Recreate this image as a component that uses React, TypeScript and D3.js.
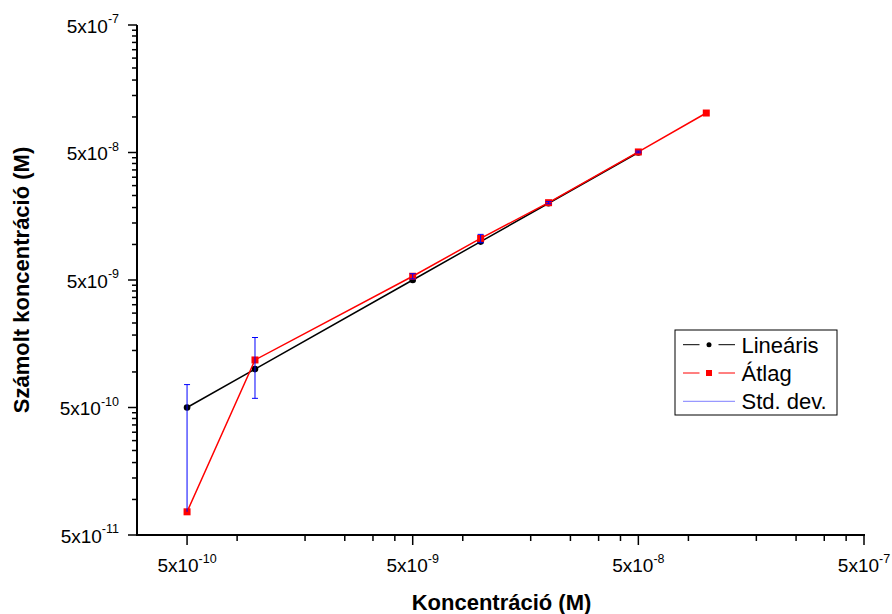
import React from 'react';
import * as d3 from 'd3';

// ---- data ----
const concentrations = [5e-10, 1e-9, 5e-9, 1e-8, 2e-8, 5e-8, 1e-7];
const linearis = [5e-10, 1e-9, 5e-9, 1e-8, 2e-8, 5e-8];
const atlag = [7.6e-11, 1.18e-9, 5.35e-9, 1.06e-8, 2.02e-8, 5.05e-8, 1.02e-7];
const stdDev = [6.8e-10, 5.9e-10, 2.5e-10, 8e-10, 4e-10, 8e-10, 0];

const xMajorTicks = [5e-10, 5e-9, 5e-8, 5e-7];
const xTickExponents = ['-10', '-9', '-8', '-7'];
const yMajorTicks = [5e-11, 5e-10, 5e-9, 5e-8, 5e-7];
const yTickExponents = ['-11', '-10', '-9', '-8', '-7'];
// minor tick factors (Origin style)
const xMinorFactors = [1 / 6, 2 / 6, 3 / 6, 4 / 6, 5 / 6]; // of upper major
const yMinorFactors = [1.9, 2.8, 3.7, 4.6, 5.5, 6.4, 7.3, 8.2, 9.1]; // of lower major

const legendLabels = ['Lineáris', 'Átlag', 'Std. dev.'];
const xTitle = 'Koncentráció (M)';
const yTitle = 'Számolt koncentráció (M)';

const W = 892;
const H = 614;
const FONT = "'Liberation Sans', Arial, sans-serif";

export default function App() {
  const x = d3.scaleLog().domain([3e-10, 5e-7]).range([137, 864]);
  const y = d3.scaleLog().domain([5e-11, 5e-7]).range([535, 25]);
  const x0 = x.range()[0];
  const y0 = y.range()[0];

  const xMinor: number[] = [];
  xMajorTicks.slice(1).forEach((m) => xMinorFactors.forEach((f) => xMinor.push(m * f)));
  const yMinor: number[] = [];
  yMajorTicks.slice(0, -1).forEach((m) => yMinorFactors.forEach((f) => yMinor.push(m * f)));

  const lin = linearis.map((v, i) => [concentrations[i], v] as [number, number]);
  const avg = atlag.map((v, i) => [concentrations[i], v] as [number, number]);
  const line = d3
    .line<[number, number]>()
    .x((d) => x(d[0]))
    .y((d) => y(d[1]));

  const legX = 675;
  const legY = 330;
  const rows = [344.7, 373, 401.3];

  return (
    <svg
      width={W}
      height={H}
      style={{ position: 'absolute', left: 0, top: 0, background: '#fff' }}
      fontFamily={FONT}
    >
      <rect x={0} y={0} width={W} height={H} fill="#fff" />

      {/* lines */}
      <path d={line(lin) || ''} fill="none" stroke="#000" strokeWidth={1.5} />
      {lin.map((d, i) => (
        <circle key={'c' + i} cx={x(d[0])} cy={y(d[1])} r={3.3} fill="#000" />
      ))}
      <path d={line(avg) || ''} fill="none" stroke="#ff0000" strokeWidth={1.5} />
      {avg.map((d, i) => (
        <rect key={'s' + i} x={x(d[0]) - 3.5} y={y(d[1]) - 3.5} width={7} height={7} fill="#ff0000" />
      ))}

      {/* error bars */}
      {avg.map((d, i) => {
        const sd = stdDev[i];
        if (!sd) return null;
        const cx = x(d[0]);
        const top = y(d[1] + sd);
        const lowVal = d[1] - sd;
        const bottom = lowVal > 0 ? y(lowVal) : y(d[1]);
        return (
          <g key={'e' + i} stroke="#0000ff" strokeWidth={1}>
            <line x1={cx} x2={cx} y1={top} y2={bottom} />
            <line x1={cx - 3} x2={cx + 3} y1={top} y2={top} />
            {lowVal > 0 && <line x1={cx - 3} x2={cx + 3} y1={bottom} y2={bottom} />}
          </g>
        );
      })}

      {/* axes */}
      <line x1={x0} x2={x0} y1={y.range()[1]} y2={y0 + 1} stroke="#000" strokeWidth={2} />
      <line x1={x0 - 1} x2={x.range()[1] + 1} y1={y0} y2={y0} stroke="#000" strokeWidth={2} />

      {xMajorTicks.map((t, i) => (
        <g key={'xm' + i}>
          <line x1={x(t)} x2={x(t)} y1={y0} y2={y0 + 10} stroke="#000" strokeWidth={1.5} />
          <text x={x(t)} y={572} fontSize={19} textAnchor="middle" fill="#000">
            5x10
            <tspan fontSize={12.5} dy={-9.5}>
              {xTickExponents[i]}
            </tspan>
          </text>
        </g>
      ))}
      {xMinor.map((t, i) => (
        <line key={'xn' + i} x1={x(t)} x2={x(t)} y1={y0} y2={y0 + 6} stroke="#000" strokeWidth={1.5} />
      ))}

      {yMajorTicks.map((t, i) => (
        <g key={'ym' + i}>
          <line x1={x0 - 9} x2={x0} y1={y(t)} y2={y(t)} stroke="#000" strokeWidth={1.5} />
          <text x={119} y={y(t) + 7.5} fontSize={19} textAnchor="end" fill="#000">
            5x10
            <tspan fontSize={12.5} dy={-9.5}>
              {yTickExponents[i]}
            </tspan>
          </text>
        </g>
      ))}
      {yMinor.map((t, i) => (
        <line key={'yn' + i} x1={x0 - 5} x2={x0} y1={y(t)} y2={y(t)} stroke="#000" strokeWidth={1.5} />
      ))}

      {/* titles */}
      <text x={501.5} y={610} fontSize={22} fontWeight="bold" textAnchor="middle" fill="#000">
        {xTitle}
      </text>
      <text
        transform={`translate(28.5, 280) rotate(-90)`}
        fontSize={22}
        fontWeight="bold"
        textAnchor="middle"
        fill="#000"
      >
        {yTitle}
      </text>

      {/* legend */}
      <rect x={legX} y={legY} width={162} height={85} fill="#fff" stroke="#000" strokeWidth={1} />
      <g>
        <line x1={683} x2={699.5} y1={rows[0]} y2={rows[0]} stroke="#000" strokeWidth={1} />
        <line x1={718.5} x2={735} y1={rows[0]} y2={rows[0]} stroke="#000" strokeWidth={1} />
        <circle cx={709} cy={rows[0]} r={2.5} fill="#000" />
        <line x1={683} x2={699.5} y1={rows[1]} y2={rows[1]} stroke="#ff0000" strokeWidth={1} />
        <line x1={718.5} x2={735} y1={rows[1]} y2={rows[1]} stroke="#ff0000" strokeWidth={1} />
        <rect x={706} y={rows[1] - 3} width={6} height={6} fill="#ff0000" />
        <line x1={683} x2={735} y1={rows[2]} y2={rows[2]} stroke="#7f7fff" strokeWidth={1} />
        {legendLabels.map((l, i) => (
          <text key={'l' + i} x={741.5} y={rows[i] + 8} fontSize={22} fill="#000">
            {l}
          </text>
        ))}
      </g>
    </svg>
  );
}
